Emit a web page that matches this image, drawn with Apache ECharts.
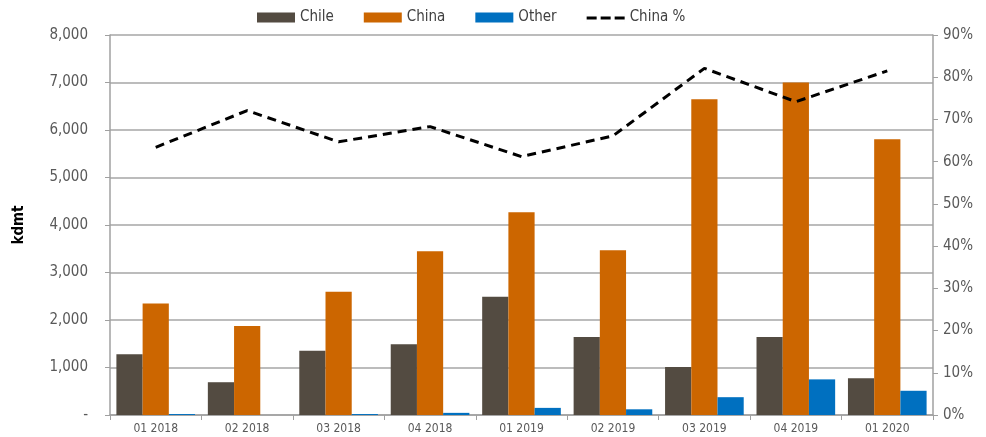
<!DOCTYPE html>
<html>
<head>
<meta charset="utf-8">
<script src="https://cdn.jsdelivr.net/npm/echarts@6/dist/echarts.min.js"></script>
<style>html,body{margin:0;padding:0;background:#fff}#c{width:986px;height:437px}</style>
</head>
<body>
<div id="c"></div>
<script>
const categories = ['01 2018','02 2018','03 2018','04 2018','01 2019','02 2019','03 2019','04 2019','01 2020'];
const chile = [1280, 690, 1355, 1490, 2490, 1640, 1010, 1640, 775];
const china = [2350, 1875, 2595, 3450, 4270, 3470, 6650, 7000, 5805];
const other = [20, 0, 20, 45, 150, 120, 375, 750, 510];
const chinaPct = [63.4, 72.1, 64.7, 68.3, 61.2, 66.1, 82.1, 74.2, 81.5];
const leftTicks = {min: 0, max: 8000, interval: 1000};
const rightTicks = {min: 0, max: 90, interval: 10};

const FONT = '"Liberation Sans Narrow", "DejaVu Sans Condensed", "Roboto", sans-serif';
const chart = echarts.init(document.getElementById('c'));
chart.setOption({
  animation: false,
  textStyle: {fontFamily: FONT},
  legend: {
    top: 5, left: 252,
    itemWidth: 38, itemHeight: 10, itemGap: 30,
    textStyle: {fontFamily: FONT, fontSize: 15, color: '#404040'},
    data: [
      {name: 'Chile', icon: 'rect'},
      {name: 'China', icon: 'rect'},
      {name: 'Other', icon: 'rect'},
      {name: 'China %', icon: 'path://M0,4H10V7H0Z M14,4H24V7H14Z M28,4H38V7H28Z M0,0H0.01V10H0Z M37.99,0H38V10H37.99Z',
       itemStyle: {color: '#000'}}
    ]
  },
  grid: {left: 110, right: 53, top: 35, bottom: 22, containLabel: false},
  xAxis: {
    type: 'category', data: categories,
    axisLine: {lineStyle: {color: '#a0a0a0', width: 1.5}},
    axisTick: {show: true, length: 5, alignWithLabel: false, lineStyle: {color: '#a0a0a0'}},
    axisLabel: {color: '#595959', fontSize: 12, margin: 8, fontFamily: FONT}
  },
  yAxis: [
    {
      type: 'value', min: leftTicks.min, max: leftTicks.max, interval: leftTicks.interval,
      name: 'kdmt', nameLocation: 'middle', nameGap: 83,
      nameTextStyle: {fontWeight: 'bold', fontSize: 15, color: '#000', fontFamily: FONT},
      axisLine: {show: true, lineStyle: {color: '#a0a0a0', width: 1.5}},
      axisTick: {show: true, length: 5, lineStyle: {color: '#a0a0a0'}},
      splitLine: {show: true, lineStyle: {color: '#a6a6a6', width: 1.5}},
      axisLabel: {
        color: '#595959', fontSize: 15, margin: 22, fontFamily: FONT,
        formatter: v => v === 0 ? '-' : v.toLocaleString('en-US')
      }
    },
    {
      type: 'value', min: rightTicks.min, max: rightTicks.max, interval: rightTicks.interval,
      position: 'right',
      axisLine: {show: true, lineStyle: {color: '#a0a0a0', width: 1.5}},
      axisTick: {show: true, length: 5, lineStyle: {color: '#a0a0a0'}},
      splitLine: {show: false},
      axisLabel: {color: '#595959', fontSize: 15, margin: 10, fontFamily: FONT, formatter: '{value}%'}
    }
  ],
  series: [
    {name: 'Chile', type: 'bar', data: chile, itemStyle: {color: '#534b41'}, barGap: '0%', barCategoryGap: '14%'},
    {name: 'China', type: 'bar', data: china, itemStyle: {color: '#cc6600'}},
    {name: 'Other', type: 'bar', data: other, itemStyle: {color: '#0070c0'}},
    {name: 'China %', type: 'line', yAxisIndex: 1, data: chinaPct, symbol: 'none',
     itemStyle: {color: '#000'},
     lineStyle: {color: '#000', width: 3, type: [9, 6]}}
  ]
});
</script>
</body>
</html>
